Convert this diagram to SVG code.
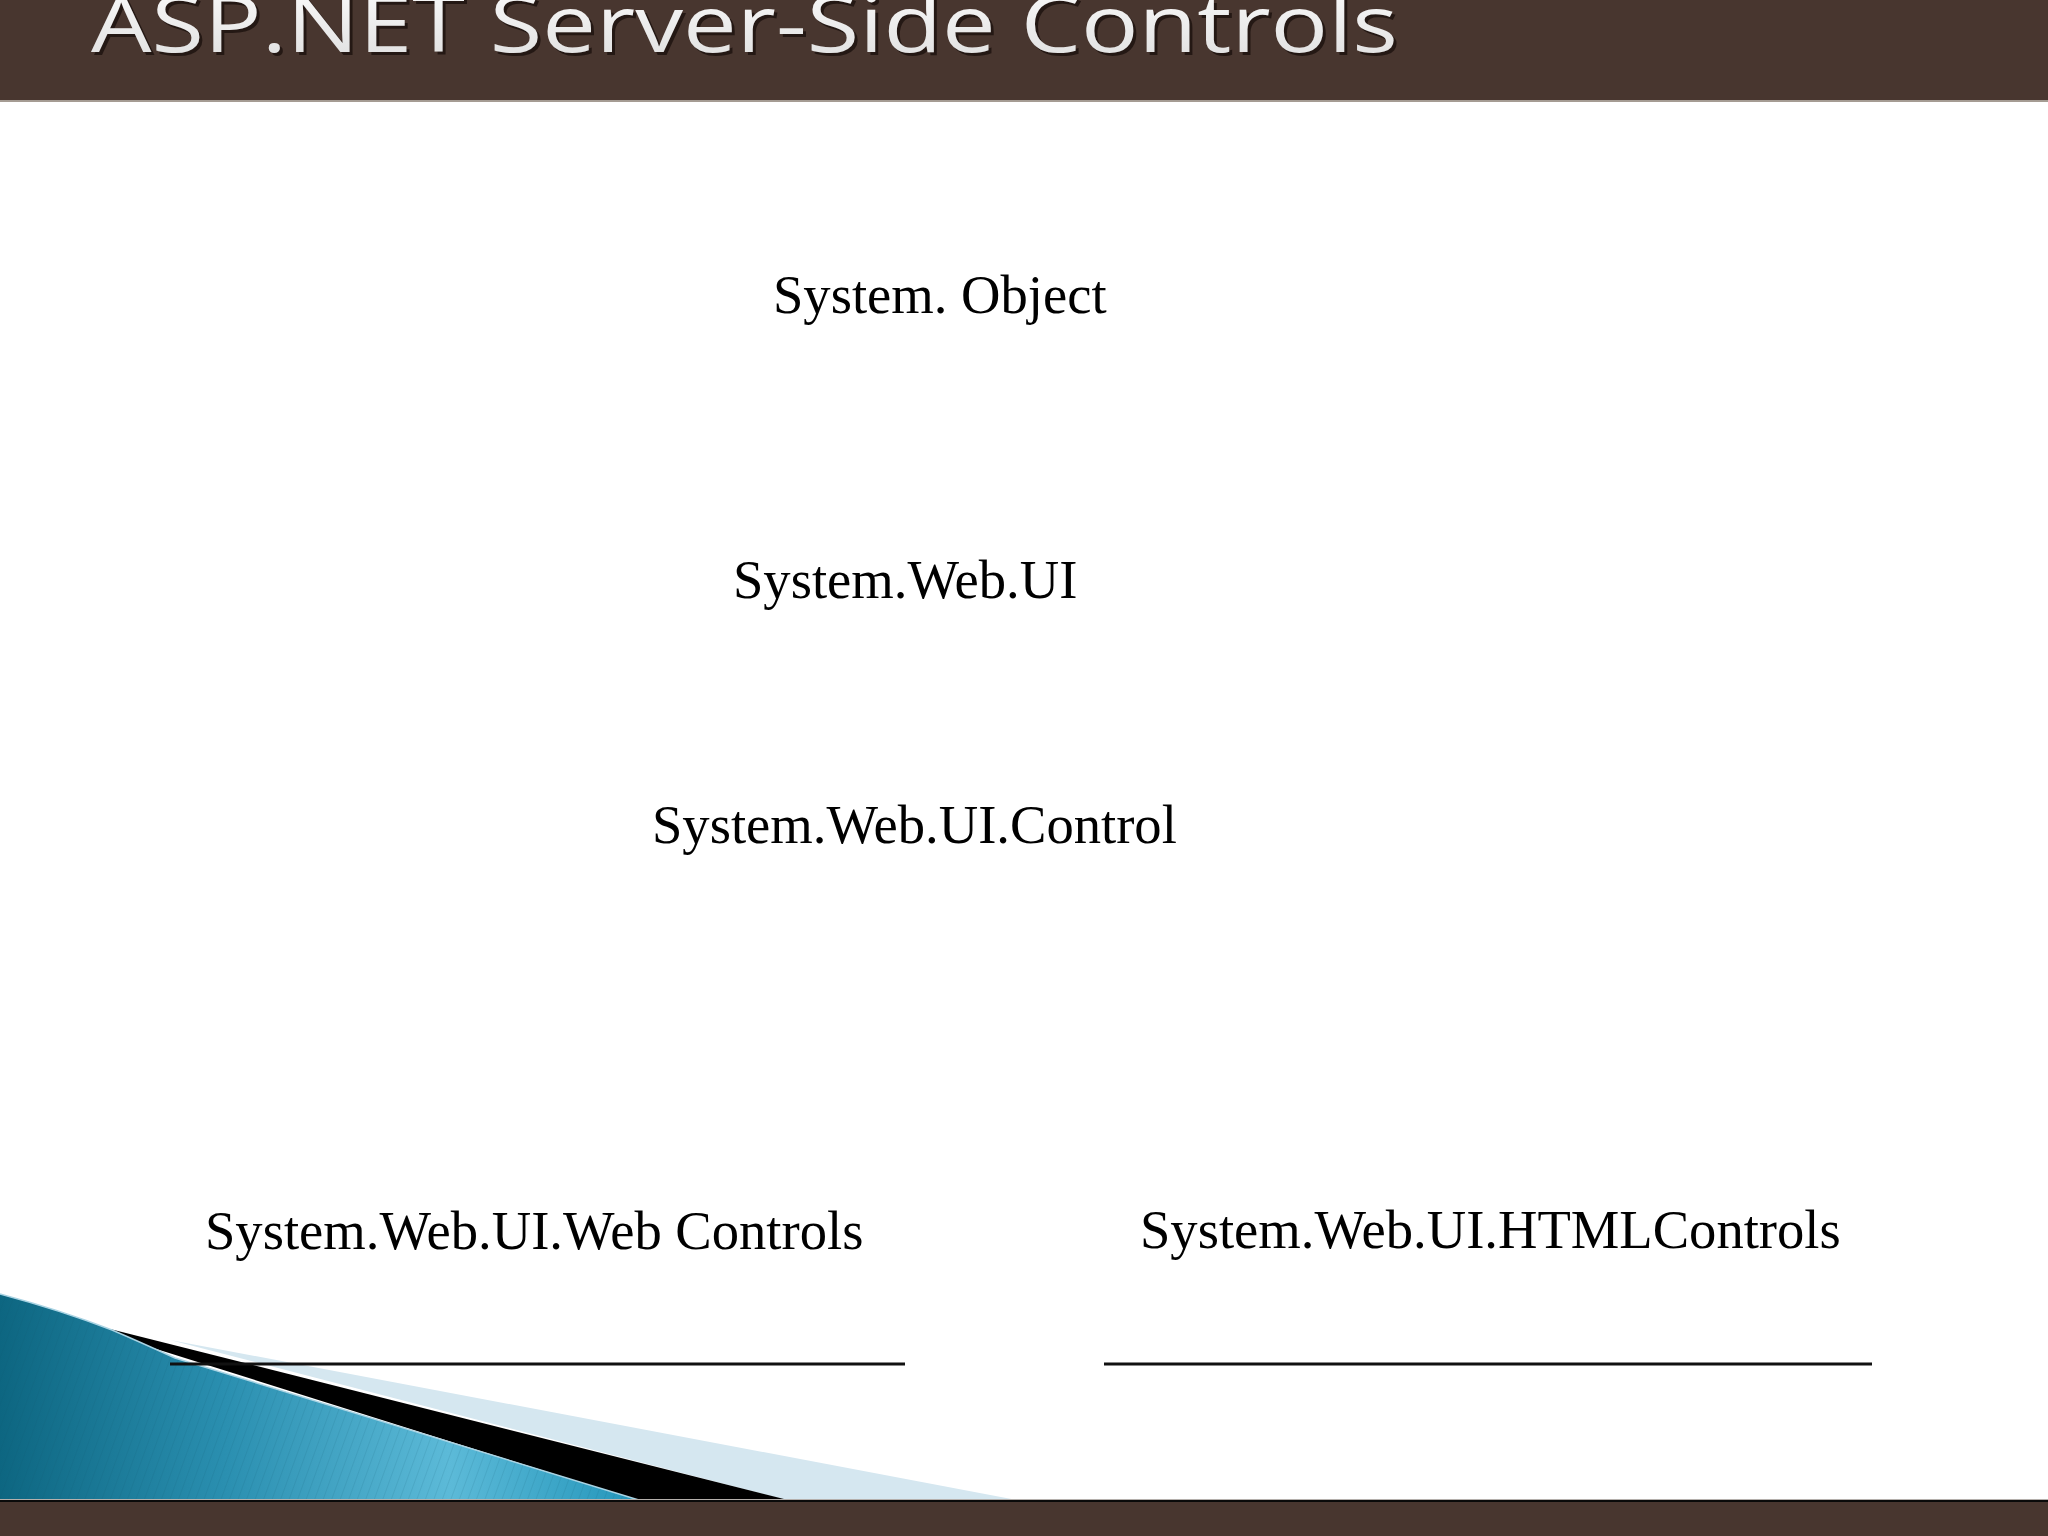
<svg xmlns="http://www.w3.org/2000/svg" width="2048" height="1536" viewBox="0 0 2048 1536">
  <defs>
    <style>
      .node text { font-family: "Liberation Serif", "Times New Roman", serif; font-size: 54.6px; fill: #000; }
      .rule { stroke: #111; stroke-width: 3; }
      .bar { fill: #48362f; }
      .title { font-family: "Open Sans", "DejaVu Sans", sans-serif; font-size: 78px; }
    </style>
    <linearGradient id="teal" x1="0" y1="0" x2="1" y2="0">
      <stop offset="0" stop-color="#0d6681"/>
      <stop offset="0.35" stop-color="#2a8fb0"/>
      <stop offset="0.7" stop-color="#5cbad8"/>
      <stop offset="1" stop-color="#2295ba"/>
    </linearGradient>
    <linearGradient id="titleFill" x1="0" y1="0" x2="0" y2="1">
      <stop offset="0" stop-color="#ffffff"/>
      <stop offset="1" stop-color="#dcdcdc"/>
    </linearGradient>
    <pattern id="stripes" width="8" height="8" patternUnits="userSpaceOnUse" patternTransform="rotate(20)">
      <rect width="8" height="8" fill="none"/>
      <line x1="0" y1="0" x2="0" y2="8" stroke="#0b5870" stroke-width="1" stroke-opacity="0.25"/>
    </pattern>
  </defs>

  <rect width="2048" height="1536" fill="#ffffff"/>

  <!-- title bar -->
  <g id="title-bar">
    <rect class="bar" x="0" y="0" width="2048" height="100"/>
    <rect x="0" y="100" width="2048" height="2" fill="#a59c93"/>
    <text class="title" x="94" y="55" textLength="1307" lengthAdjust="spacingAndGlyphs" fill="#1c120e" fill-opacity="0.8">ASP.NET Server-Side Controls</text>
    <text class="title" x="91" y="52" textLength="1307" lengthAdjust="spacingAndGlyphs" fill="url(#titleFill)">ASP.NET Server-Side Controls</text>
  </g>

  <!-- bottom-left decoration -->
  <g id="decoration">
    <polygon points="170,1340 1022,1501 790,1501" fill="#d5e7f0"/>
    <polygon points="110,1329 792,1501 640,1501 118,1337" fill="#000000"/>
    <path d="M0,1294 Q60,1310 112,1330 Q140,1342 175,1358 L642,1501 L0,1501 Z" fill="url(#teal)"/>
    <path d="M0,1294 Q60,1310 112,1330 Q140,1342 175,1358 L642,1501 L0,1501 Z" fill="url(#stripes)"/>
    <path d="M0,1294 Q60,1310 112,1330 Q140,1342 175,1358 L642,1501" fill="none" stroke="#a9d3e3" stroke-width="1.5"/>
  </g>

  <!-- bottom bar -->
  <g id="bottom-bar">
    <rect x="0" y="1499" width="2048" height="1" fill="#b5b0ac"/>
    <rect x="0" y="1500" width="2048" height="2" fill="#0a0a0a"/>
    <rect class="bar" x="0" y="1502" width="2048" height="34"/>
  </g>

  <!-- nodes -->
  <g id="node-system-object" class="node">
    <text x="773" y="313">System. Object</text>
  </g>
  <g id="node-system-web-ui" class="node">
    <text x="733" y="598">System.Web.UI</text>
  </g>
  <g id="node-system-web-ui-control" class="node">
    <text x="652" y="843">System.Web.UI.Control</text>
  </g>
  <g id="node-web-controls" class="node">
    <text x="205" y="1249">System.Web.UI.Web Controls</text>
    <line class="rule" x1="170" y1="1364" x2="905" y2="1364"/>
  </g>
  <g id="node-html-controls" class="node">
    <text x="1140" y="1248">System.Web.UI.HTMLControls</text>
    <line class="rule" x1="1104" y1="1364" x2="1872" y2="1364"/>
  </g>

  <g id="connectors"></g>
</svg>
